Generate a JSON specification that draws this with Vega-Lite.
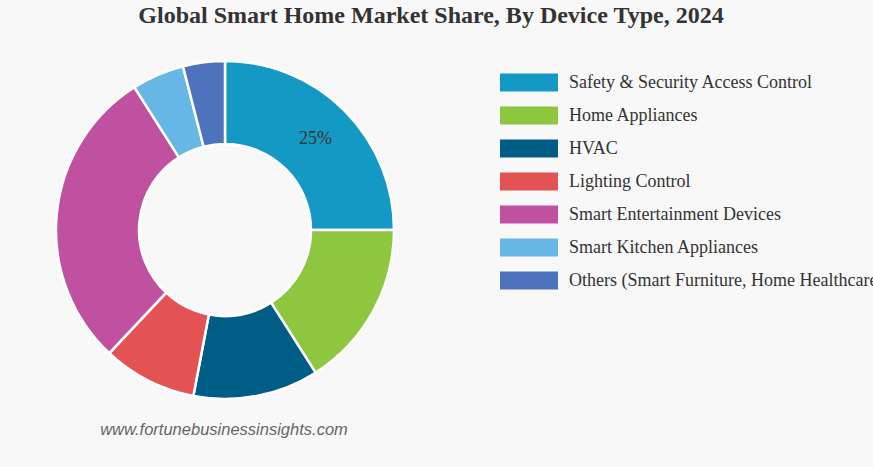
{
  "$schema": "https://vega.github.io/schema/vega-lite/v6.json",
  "autosize": {"type": "none"},
  "width": 450,
  "height": 380,
  "padding": {"left": 0, "top": 40, "right": 423, "bottom": 47},
  "background": "#f8f8f8",
  "title": {
    "text": "Global Smart Home Market Share, By Device Type, 2024",
    "font": "Liberation Serif",
    "fontSize": 24,
    "fontWeight": "bold",
    "color": "#333333",
    "anchor": "middle",
    "dx": 206,
    "offset": 12
  },
  "datasets": {
    "shares": [
      {"type": "Safety & Security Access Control", "share": 25, "label": "25%", "order": 1},
      {"type": "Home Appliances", "share": 16, "label": "16%", "order": 2},
      {"type": "HVAC", "share": 12, "label": "12%", "order": 3},
      {"type": "Lighting Control", "share": 9, "label": "9%", "order": 4},
      {"type": "Smart Entertainment Devices", "share": 29, "label": "29%", "order": 5},
      {"type": "Smart Kitchen Appliances", "share": 5, "label": "5%", "order": 6},
      {"type": "Others (Smart Furniture, Home Healthcare)", "share": 4, "label": "4%", "order": 7}
    ],
    "source": [{"site": "www.fortunebusinessinsights.com"}]
  },
  "layer": [
    {
      "data": {"name": "shares"},
      "mark": {"type": "arc", "innerRadius": 86, "outerRadius": 169, "stroke": "#ffffff", "strokeWidth": 2.5},
      "encoding": {
        "theta": {"field": "share", "type": "quantitative", "stack": true},
        "order": {"field": "order", "type": "quantitative"},
        "color": {
          "field": "type",
          "type": "nominal",
          "sort": null,
          "scale": {
            "domain": ["Safety & Security Access Control", "Home Appliances", "HVAC", "Lighting Control", "Smart Entertainment Devices", "Smart Kitchen Appliances", "Others (Smart Furniture, Home Healthcare)"],
            "range": ["#1499c5", "#8dc63f", "#005e86", "#e45353", "#bf51a0", "#66b7e5", "#4e73bd"]
          },
          "legend": {
            "title": null,
            "orient": "none",
            "legendX": 500,
            "legendY": 26,
            "symbolType": "M-1,-0.31L1,-0.31L1,0.31L-1,0.31Z",
            "symbolSize": 3364,
            "symbolStrokeWidth": 0,
            "symbolOpacity": 1,
            "labelFont": "Liberation Serif",
            "labelFontSize": 18,
            "labelColor": "#333333",
            "labelOffset": 11,
            "labelLimit": 0,
            "clipHeight": 33,
            "rowPadding": 0
          }
        }
      }
    },
    {
      "data": {"name": "shares"},
      "transform": [{"filter": "datum.order == 1"}],
      "mark": {"type": "text", "radius": 128, "font": "Liberation Serif", "fontSize": 18, "color": "#333333"},
      "encoding": {
        "theta": {"field": "share", "type": "quantitative", "stack": true},
        "text": {"field": "label", "type": "nominal"}
      }
    },
    {
      "data": {"name": "source"},
      "mark": {"type": "text", "x": 224, "y": 390, "font": "Liberation Sans", "fontSize": 16.5, "fontStyle": "italic", "color": "#666666", "align": "center", "baseline": "middle"},
      "encoding": {
        "text": {"field": "site", "type": "nominal"}
      }
    }
  ]
}
